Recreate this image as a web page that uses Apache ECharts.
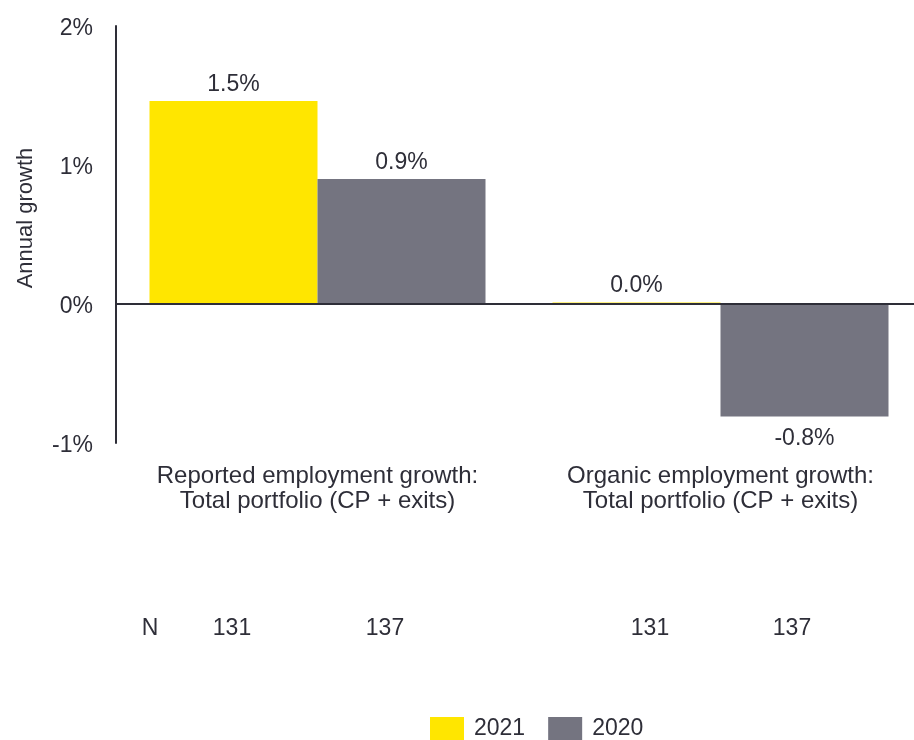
<!DOCTYPE html>
<html>
<head>
<meta charset="utf-8">
<script src="https://cdn.jsdelivr.net/npm/echarts@6/dist/echarts.min.js"></script>
<style>
  html, body { margin: 0; padding: 0; background: #fff; overflow: hidden; }
  #chart { width: 922px; height: 740px; }
</style>
</head>
<body>
<div id="chart"></div>
<script>
// Employment growth by portfolio measure, 2021 vs 2020
const categories = [
  'Reported employment growth:\nTotal portfolio (CP + exits)',
  'Organic employment growth:\nTotal portfolio (CP + exits)'
];
const seriesNames = ['2021', '2020'];
const values2021 = [1.46, 0.01];
const values2020 = [0.9, -0.81];
const sampleSizes = [131, 137, 131, 137];
const yTicks = [-1, 0, 1, 2];

const TEXT = '#2E2E38';
const FONT = '"Liberation Sans", Arial, sans-serif';
const FS = 23;

function toItems(vals) {
  return vals.map(v => ({
    value: v,
    label: v < 0
      ? { position: 'bottom', distance: 11 }
      : { position: 'top', distance: 5 }
  }));
}

// The plot area runs slightly past the right edge of the visible page
const chart = echarts.init(document.getElementById('chart'), null, { renderer: 'canvas' });

const nX = [150, 232, 385, 650, 792];
const nTexts = ['N'].concat(sampleSizes.map(String));

const barLabel = {
  show: true,
  fontSize: FS,
  color: TEXT,
  fontFamily: FONT,
  formatter: p => p.value.toFixed(1) + '%'
};

chart.setOption({
  animation: false,
  textStyle: { fontFamily: FONT, color: TEXT },
  grid: { left: 116, right: 0, top: 26, bottom: 297, containLabel: false },
  legend: {
    data: seriesNames,
    left: 425,
    top: 712,
    itemWidth: 34,
    itemHeight: 23,
    itemGap: 23,
    icon: 'rect',
    textStyle: { fontSize: FS, color: TEXT, fontFamily: FONT, padding: [2, 0, 0, 5] }
  },
  xAxis: {
    type: 'category',
    data: categories,
    position: 'bottom',
    axisLine: { show: false },
    axisTick: { show: false },
    axisLabel: {
      margin: 21,
      fontSize: 24,
      lineHeight: 25,
      color: TEXT,
      fontFamily: FONT,
      interval: 0
    }
  },
  yAxis: {
    type: 'value',
    min: yTicks[0],
    max: yTicks[yTicks.length - 1],
    interval: 1,
    splitLine: { show: false },
    axisTick: { show: false },
    axisLine: { show: true, lineStyle: { color: TEXT, width: 2 } },
    axisLabel: {
      margin: 23,
      color: TEXT,
      fontFamily: FONT,
      formatter: v => '{t|' + v + '%}',
      rich: {
        t: { fontSize: FS, color: TEXT, fontFamily: FONT, padding: [6, 0, 0, 0] }
      }
    }
  },
  series: [
    {
      name: seriesNames[0],
      type: 'bar',
      data: toItems(values2021),
      barWidth: 168,
      barGap: 0,
      itemStyle: { color: '#FFE600' },
      label: barLabel,
      z: 2
    },
    {
      name: seriesNames[1],
      type: 'bar',
      data: toItems(values2020),
      barWidth: 168,
      barGap: 0,
      itemStyle: { color: '#747480' },
      label: barLabel,
      markLine: {
        silent: true,
        symbol: 'none',
        label: { show: false },
        lineStyle: { color: TEXT, width: 2, type: 'solid' },
        data: [{ yAxis: 0 }],
        z: 5
      },
      z: 2
    }
  ],
  graphic: [
    {
      type: 'text',
      x: 26,
      y: 218,
      rotation: Math.PI / 2,
      style: {
        text: 'Annual growth',
        font: '22px ' + FONT,
        fill: TEXT,
        align: 'center',
        verticalAlign: 'middle'
      }
    }
  ].concat(nTexts.map((t, i) => ({
    type: 'text',
    x: nX[i],
    y: 629,
    style: {
      text: t,
      font: FS + 'px ' + FONT,
      fill: TEXT,
      align: 'center',
      verticalAlign: 'middle'
    }
  })))
});
</script>
</body>
</html>
